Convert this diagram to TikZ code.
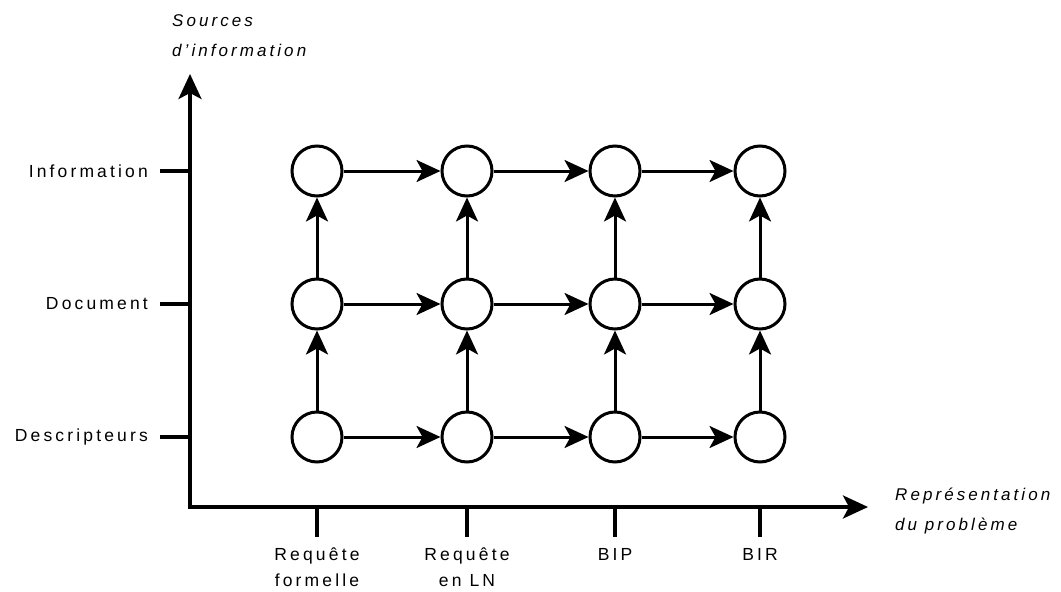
\documentclass[tikz,border=0pt]{standalone}
\usepackage{fontspec}
\setmainfont[LetterSpace=18]{Liberation Sans}
\usetikzlibrary{arrows.meta}
\begin{document}
\begin{tikzpicture}[x=1pt,y=-1pt,
  axis/.style={line width=3.5pt},
  tick/.style={line width=3.5pt},
  st/.style={circle, draw, line width=3pt, minimum size=50pt, inner sep=0pt},
  link/.style={line width=3pt, -{Stealth[length=24pt,width=22pt,inset=6pt]}},
  lab/.style={font=\fontsize{17.5}{20}\selectfont, inner sep=0pt},
  ital/.style={font=\fontsize{17}{30}\selectfont\itshape, inner sep=0pt, align=left}]
\useasboundingbox (0,0) rectangle (1061,592);
% axes
\coordinate (O) at (190,507);
\coordinate (ytip) at (190,74);
\coordinate (xtip) at (868,507);
\draw[axis, -{Stealth[length=25pt,width=23pt,inset=6pt]}] ([yshift=-1.75pt]O) -- (ytip);
\draw[axis, -{Stealth[length=25pt,width=23pt,inset=6pt]}] ([xshift=-1.75pt]O) -- (xtip);
% y ticks
\foreach \n/\y in {i/171, d/304, s/437} {
  \coordinate (yt\n) at (190,\y);
  \coordinate (yl\n) at (160,\y);
  \draw[tick] (yt\n) -- (yl\n);
}
% x ticks
\foreach \n/\x in {a/317, b/467, c/615, e/760} {
  \coordinate (xt\n) at (\x,507);
  \coordinate (xl\n) at (\x,537);
  \draw[tick] (xt\n) -- (xl\n);
}
% labels
\node[lab, anchor=east] (li) at (148,171) {Information};
\node[lab, anchor=east] (ld) at (148,304) {Document};
\node[lab, anchor=east] (ls) at (148,437) {Descripteurs};
\node[ital, anchor=north west] (ly) at (172,14) {Sources\\d'information};
\node[ital, anchor=north west] (lx) at (895,488) {Représentation\\du problème};
\node[lab, align=center, anchor=north, font=\fontsize{17.5}{26}\selectfont] (la) at (317,548) {Requête\\formelle};
\node[lab, align=center, anchor=north, font=\fontsize{17.5}{26}\selectfont] (lb) at (467,548) {Requête\\en LN};
\node[lab, align=center, anchor=north, font=\fontsize{17.5}{26}\selectfont] (lc) at (615,548) {BIP};
\node[lab, align=center, anchor=north, font=\fontsize{17.5}{26}\selectfont] (le) at (760,548) {BIR};
% states
\foreach \c/\x in {1/317, 2/467, 3/615, 4/760} {
  \node[st] (n\c a) at (\x,171) {};
  \node[st] (n\c b) at (\x,304) {};
  \node[st] (n\c c) at (\x,437) {};
}
% horizontal links
\foreach \r in {a,b,c} {
  \draw[link] (n1\r) -- (n2\r);
  \draw[link] (n2\r) -- (n3\r);
  \draw[link] (n3\r) -- (n4\r);
}
% vertical links
\foreach \c in {1,2,3,4} {
  \draw[link] (n\c c) -- (n\c b);
  \draw[link] (n\c b) -- (n\c a);
}
\end{tikzpicture}
\end{document}
